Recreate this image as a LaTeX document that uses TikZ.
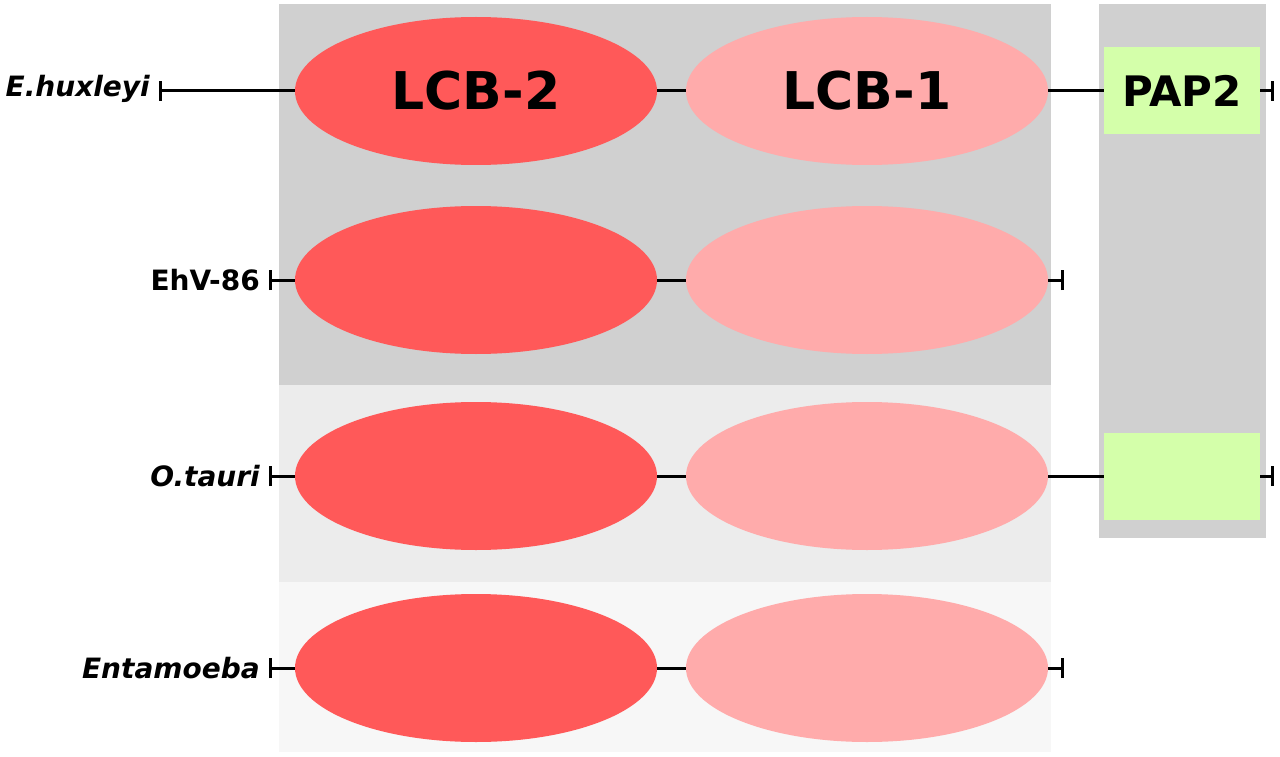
\documentclass[tikz,border=0pt]{standalone}
\usepackage{fontspec}
\setmainfont{DejaVu Sans}
\usetikzlibrary{shapes.geometric}
\definecolor{lcbtwo}{HTML}{FF5959}
\definecolor{lcbone}{HTML}{FFABAB}
\definecolor{papc}{HTML}{D4FFAA}
\definecolor{bgA}{HTML}{D0D0D0}
\definecolor{bgB}{HTML}{ECECEC}
\definecolor{bgC}{HTML}{F7F7F7}
\begin{document}
\begin{tikzpicture}[x=1pt,y=-1pt,
  dom2/.style={ellipse,fill=lcbtwo,minimum width=362pt,minimum height=148pt,inner sep=0pt},
  dom1/.style={ellipse,fill=lcbone,minimum width=362pt,minimum height=148pt,inner sep=0pt},
  pap/.style={fill=papc,minimum width=156pt,minimum height=87pt,inner sep=0pt},
  ln/.style={line width=3pt},
  tk/.style={line width=3pt},
  lab/.style={anchor=east,font=\bfseries\fontsize{28}{30}\selectfont,inner sep=0pt},
  big/.style={font=\bfseries\fontsize{52}{56}\selectfont}]
\useasboundingbox (0,0) rectangle (1280,757);
\fill[bgA] (279,4) rectangle (1051,385);
\fill[bgB] (279,385) rectangle (1051,582);
\fill[bgC] (279,582) rectangle (1051,752);
\fill[bgA] (1099,4) rectangle (1266,538);
% row 1
\node[dom2,big] (a2) at (476,91) {LCB-2};
\node[dom1,big] (a1) at (867,91) {LCB-1};
\node[pap,font=\bfseries\fontsize{42}{46}\selectfont] (ap) at (1182,91) {PAP2};
\coordinate (as) at (160,91); \coordinate (ae) at (1272,91);
\draw[ln] (as) -- (a2.west); \draw[ln] (a2.east) -- (a1.west); \draw[ln] (a1.east) -- (ap.west); \draw[ln] (ap.east) -- (ae);
\draw[tk] ([yshift=-10pt]as) -- ([yshift=10pt]as); \draw[tk] ([yshift=-10pt]ae) -- ([yshift=10pt]ae);
\node[lab,font=\bfseries\itshape\fontsize{28}{30}\selectfont] (al) at (150,89) {E.huxleyi};
% row 2
\node[dom2] (b2) at (476,280) {};
\node[dom1] (b1) at (867,280) {};
\coordinate (bs) at (270,280); \coordinate (be) at (1062,280);
\draw[ln] (bs) -- (b2.west); \draw[ln] (b2.east) -- (b1.west); \draw[ln] (b1.east) -- (be);
\draw[tk] ([yshift=-10pt]bs) -- ([yshift=10pt]bs); \draw[tk] ([yshift=-10pt]be) -- ([yshift=10pt]be);
\node[lab] (bl) at (260,280) {EhV-86};
% row 3
\node[dom2] (c2) at (476,476) {};
\node[dom1] (c1) at (867,476) {};
\node[pap] (cp) at (1182,476) {};
\coordinate (cs) at (270,476); \coordinate (ce) at (1272,476);
\draw[ln] (cs) -- (c2.west); \draw[ln] (c2.east) -- (c1.west); \draw[ln] (c1.east) -- (cp.west); \draw[ln] (cp.east) -- (ce);
\draw[tk] ([yshift=-10pt]cs) -- ([yshift=10pt]cs); \draw[tk] ([yshift=-10pt]ce) -- ([yshift=10pt]ce);
\node[lab,font=\bfseries\itshape\fontsize{28}{30}\selectfont] (cl) at (260,476) {O.tauri};
% row 4
\node[dom2] (d2) at (476,668) {};
\node[dom1] (d1) at (867,668) {};
\coordinate (ds) at (270,668); \coordinate (de) at (1062,668);
\draw[ln] (ds) -- (d2.west); \draw[ln] (d2.east) -- (d1.west); \draw[ln] (d1.east) -- (de);
\draw[tk] ([yshift=-10pt]ds) -- ([yshift=10pt]ds); \draw[tk] ([yshift=-10pt]de) -- ([yshift=10pt]de);
\node[lab,font=\bfseries\itshape\fontsize{28}{30}\selectfont] (dl) at (260,668) {Entamoeba};
\end{tikzpicture}
\end{document}
